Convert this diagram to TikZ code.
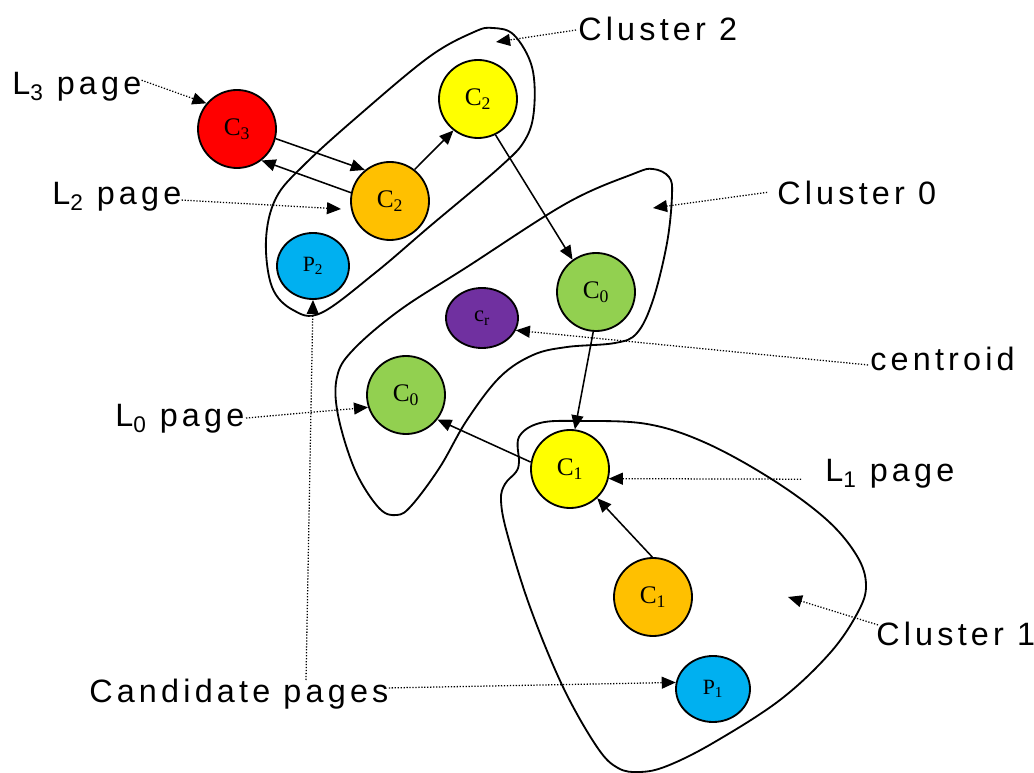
\documentclass[tikz,border=0pt]{standalone}
\usepackage{fontspec}
\setmainfont{Liberation Serif}
\newfontfamily\lblfont[LetterSpace=13]{Liberation Sans}
\usetikzlibrary{arrows.meta,shapes.geometric}
\definecolor{pred}{HTML}{FF0000}
\definecolor{porange}{HTML}{FFC000}
\definecolor{pyellow}{HTML}{FFFF00}
\definecolor{pblue}{HTML}{00B0F0}
\definecolor{pgreen}{HTML}{92D050}
\definecolor{ppurple}{HTML}{7030A0}
\tikzset{
  page/.style={circle, draw=black, line width=1.3pt, minimum size=1.95cm, inner sep=0pt,
    font=\fontsize{18}{20}\selectfont},
  oval/.style={ellipse, draw=black, line width=1.3pt, inner sep=0pt},
  lbl/.style={anchor=base west, inner sep=0pt, font=\lblfont\fontsize{23}{27}\selectfont},
  link/.style={line width=1.1pt, -{Triangle[length=10pt,width=8.5pt]}},
  lead/.style={line width=0.9pt, dash pattern=on 0.9pt off 1.2pt, -{Triangle[length=10pt,width=8.5pt]}},
  cluster/.style={line width=1.3pt}
}
\begin{document}
\begin{tikzpicture}[x=0.025cm, y=-0.025cm]
\useasboundingbox[fill=white] (0,0) rectangle (1034,773);

% cluster outlines
\draw[cluster] plot[smooth cycle, tension=0.6] coordinates {
  (493,28) (514,35) (532,67) (534,110) (525,140) (500,167) (429,227) (375,273)
  (321,313) (293,310) (272,287) (266,240) (276,198) (304,165) (357,117) (429,57) (474,32)};
\draw[cluster] plot[smooth cycle, tension=0.6] coordinates {
  (653,169) (669,177) (672,195) (667,243) (653,300) (637,333) (615,343) (567,347)
  (533,355) (500,377) (467,420) (440,467) (412,505) (397,515) (379,508) (355,470)
  (338,415) (337,377) (353,350) (400,310) (467,267) (567,203) (633,174)};
\draw[cluster] plot[smooth cycle, tension=0.6] coordinates {
  (540,423) (580,421) (647,424) (706,443) (773,480) (827,520) (857,556) (866,585)
  (858,612) (830,653) (780,700) (713,743) (667,766) (640,772) (618,768) (597,747)
  (563,687) (530,607) (507,533) (501,500) (505,484) (516,472) (519,462) (519,437)};

% pages
\node[page, fill=pred]    (c3)  at (237,129) {C\textsubscript{3}};
\node[page, fill=porange] (c2o) at (390,201) {C\textsubscript{2}};
\node[page, fill=pyellow] (c2y) at (478,99)  {C\textsubscript{2}};
\node[oval, fill=pblue, minimum width=1.8cm, minimum height=1.65cm,
      font=\fontsize{15.5}{18}\selectfont] (p2) at (313,266) {P\textsubscript{2}};
\node[page, fill=pgreen]  (c0t) at (596,292) {C\textsubscript{0}};
\node[oval, fill=ppurple, minimum width=1.8cm, minimum height=1.5cm,
      font=\fontsize{16}{18}\selectfont] (cr) at (482,318) {c\textsubscript{r}};
\node[page, fill=pgreen]  (c0b) at (406,395) {C\textsubscript{0}};
\node[page, fill=pyellow] (c1y) at (570,469) {C\textsubscript{1}};
\node[page, fill=porange] (c1o) at (653,597) {C\textsubscript{1}};
\node[oval, fill=pblue, minimum width=1.85cm, minimum height=1.65cm,
      font=\fontsize{15.5}{18}\selectfont] (p1) at (713,689) {P\textsubscript{1}};

% links between pages
\draw[link] (c3.-14)   -- (c2o.129);
\draw[link] (c2o.168)  -- (c3.-52);
\draw[link] (c2o.52)   -- (c2y.232);
\draw[link] (c2y.-64)  -- (c0t.126);
\draw[link] (c0t.-94)  -- (c1y.83);
\draw[link] (c1y.170)  -- (c0b.-38);
\draw[link] (c1o.91)   -- (c1y.-47);

% labels
\node[lbl] (l3)   at (12,95)   {L\textsubscript{3} page};
\node[lbl] (l2)   at (52,205)  {L\textsubscript{2} page};
\node[lbl] (cl2)  at (578,41)  {Cluster 2};
\node[lbl] (cl0)  at (777,205) {Cluster 0};
\node[lbl] (cen)  at (870,371) {centroid};
\node[lbl] (l1)   at (825,482) {L\textsubscript{1} page};
\node[lbl] (cl1)  at (876,646) {Cluster 1};
\node[lbl] (l0)   at (115,427) {L\textsubscript{0} page};
\node[lbl] (cand) at (89,702)  {Candidate pages};

% free ends of the leaders
\coordinate (l2t)   at (341,209);
\coordinate (cl2t)  at (496,42);
\coordinate (cl0t)  at (653,208);
\coordinate (cl1t)  at (788,597);
\coordinate (candv) at (306,680);

% leaders
\draw[lead] ([yshift=10.5pt]l3.base east) -- (c3.140);
\draw[lead] ([yshift=3.5pt]l2.base east) -- (l2t);
\draw[lead] ([xshift=-1.4pt,yshift=7.8pt]cl2.base west) -- (cl2t);
\draw[lead] ([xshift=-7pt,yshift=9pt]cl0.base west) -- (cl0t);
\draw[lead] ([xshift=-1.4pt,yshift=4.3pt]cen.base west) -- (cr.-20);
\draw[lead] ([xshift=-17pt,yshift=2pt]l1.base west) -- (c1y.-14);
\draw[lead] ([xshift=1.4pt,yshift=15pt]cl1.base west) -- (cl1t);
\draw[lead] ([xshift=1pt,yshift=6.4pt]l0.base east) -- (c0b.198);
\draw[lead] ([yshift=10pt]cand.base east) -- (p1.170);
\draw[lead] (candv) -- (p2.south);
\end{tikzpicture}
\end{document}
